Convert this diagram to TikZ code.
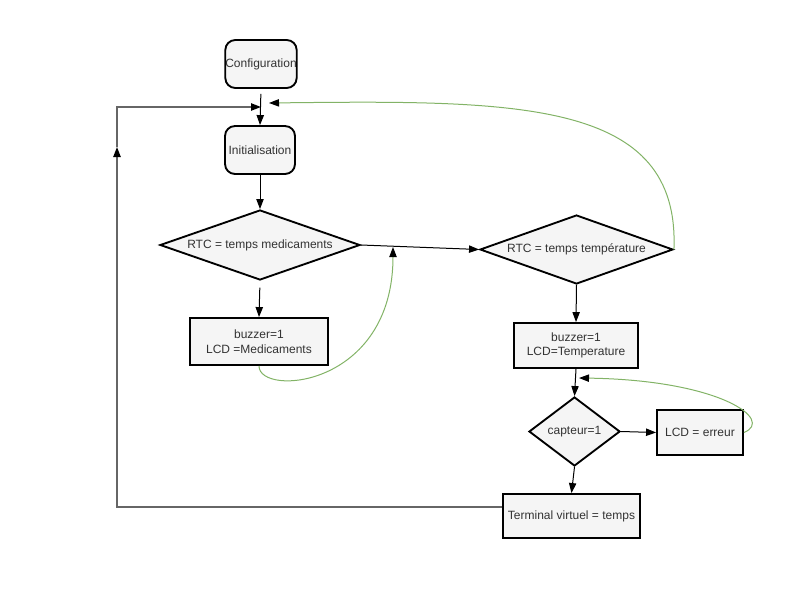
\documentclass[tikz,border=0pt]{standalone}
\usepackage{fontspec}
\setmainfont{Liberation Sans}
\usetikzlibrary{shapes.geometric,arrows.meta}
\definecolor{txt}{HTML}{333333}
\definecolor{grn}{HTML}{82B366}
\definecolor{gline}{HTML}{666666}
\begin{document}
\begin{tikzpicture}[x=0.75pt,y=-0.75pt,
  every node/.style={font=\fontsize{9}{11}\selectfont, text=txt, align=center, inner sep=1pt},
  base/.style={draw=black, line width=1.4pt, fill=black!4},
  rbox/.style={base, rectangle, rounded corners=7.5pt, inner xsep=0pt},
  pbox/.style={base, rectangle},
  dbox/.style={base, diamond, inner sep=0pt},
  tip/.style={-{Triangle[length=7.5pt,width=5.5pt]}},
  arr/.style={tip, draw=black, line width=0.75pt},
  garr/.style={-{Triangle[length=7.5pt,width=5.5pt,color=black]}, draw=gline, line width=1pt},
  gcurve/.style={-{Triangle[length=7.5pt,width=5.5pt,color=black]}, draw=grn, line width=0.75pt}]
\useasboundingbox (0,0) rectangle (800,600);

\node[rbox, minimum width=52.5pt, minimum height=36pt] (conf) at (261,64) {Configuration};
\node[rbox, minimum width=52.5pt, minimum height=36pt] (init) at (260,150) {Initialisation};
\node[dbox, aspect=2.857, minimum width=150pt, minimum height=52.5pt] (d1) at (260,245) {RTC = temps medicaments};
\node[pbox, minimum width=103.5pt, minimum height=35.25pt] (b1) at (259,341.5) {buzzer=1\\LCD =Medicaments};
\node[dbox, aspect=2.797, minimum width=144.75pt, minimum height=51.75pt] (d2) at (576.5,249.5) {RTC = temps température};
\node[pbox, minimum width=93pt, minimum height=33.75pt] (b2) at (576,345.5) {buzzer=1\\LCD=Temperature};
\node[dbox, aspect=1.319, minimum width=68.25pt, minimum height=51.75pt] (d3) at (574.5,431.5) {capteur=1};
\node[pbox, minimum width=64.5pt, minimum height=33.75pt] (err) at (700,432.5) {LCD = erreur};
\node[pbox, minimum width=102.75pt, minimum height=33pt] (term) at (571.5,516) {Terminal virtuel = temps};

\coordinate (j1) at (261,107);
\coordinate (j1e) at (269,103);
\coordinate (lb) at (117,507);
\coordinate (lm) at (117,147);
\coordinate (lt) at (117,107);
\coordinate (c1) at (393,247);
\coordinate (j3) at (579,378);

% main flow
\draw[arr, shorten <=3.75pt] (conf.south) -- (init.north);
\draw[arr] (init.south) -- (d1.north);
\draw[arr, shorten <=5pt] (d1.south) -- (b1.north);
\draw[arr] (d1.east) -- (d2.west);
\draw[arr] (d2.south) -- (b2.north);
\draw[arr] (b2.south) -- (d3.north);
\draw[arr] (d3.east) -- (err.west);
\draw[arr] (d3.south) -- (term.north);

% return loop
\draw[garr] (lb -| term.west) -- (lb) -- (lm);
\draw[garr] (lm) -- (lt) -- (j1);

% green curves
\draw[gcurve] (d2.east) .. controls (680,100) and (520,100) .. (j1e);
\draw[gcurve] (b1.south) .. controls (259,397) and (393,388) .. (c1);
\draw[gcurve] (err.east) .. controls (775,420) and (720,380) .. (j3);
\end{tikzpicture}
\end{document}
